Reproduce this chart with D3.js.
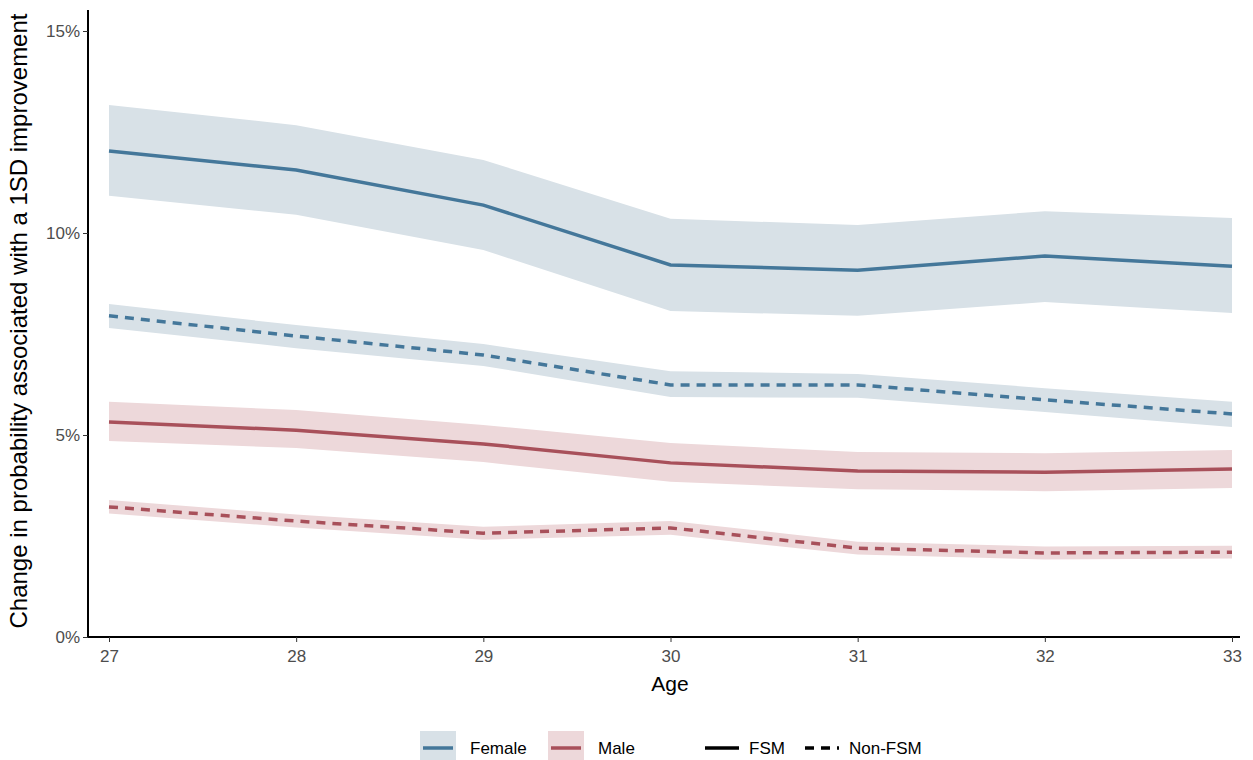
<!DOCTYPE html>
<html><head><meta charset="utf-8">
<script src="https://cdn.jsdelivr.net/npm/d3@7"></script>
<style>body{margin:0;background:#fff}text{font-family:Arial,"Liberation Sans",sans-serif}</style>
</head><body><svg id="c" width="1253" height="760"></svg>
<script>
const ages=[27,28,29,30,31,32,33];
const yTicks=[0,5,10,15];
const femFSM=[12.03,11.56,10.69,9.21,9.08,9.43,9.18];
const femFSMHi=[13.17,12.67,11.81,10.35,10.2,10.54,10.37];
const femFSMLo=[10.92,10.45,9.58,8.07,7.95,8.29,8.02];
const femNon=[7.95,7.45,6.98,6.24,6.24,5.87,5.52];
const femNonHi=[8.24,7.72,7.25,6.58,6.51,6.16,5.82];
const femNonLo=[7.65,7.15,6.71,5.94,5.92,5.57,5.2];
const malFSM=[5.32,5.12,4.78,4.31,4.11,4.08,4.16];
const malFSMHi=[5.82,5.62,5.25,4.8,4.58,4.55,4.63];
const malFSMLo=[4.85,4.68,4.33,3.84,3.66,3.61,3.69];
const malNon=[3.22,2.87,2.57,2.7,2.2,2.08,2.1];
const malNonHi=[3.39,3.03,2.73,2.87,2.36,2.24,2.26];
const malNonLo=[3.06,2.71,2.41,2.53,2.04,1.92,1.94];
const FC="#44779a",FB="#d8e1e7",MC="#a8505a",MB="#edd8da";
const svg=d3.select("#c");
const x=d3.scaleLinear().domain([27,33]).range([109,1232]);
const y=d3.scaleLinear().domain([0,15]).range([637,31]);
const series=[
 [femFSM,femFSMHi,femFSMLo,FC,FB,false],
 [femNon,femNonHi,femNonLo,FC,FB,true],
 [malFSM,malFSMHi,malFSMLo,MC,MB,false],
 [malNon,malNonHi,malNonLo,MC,MB,true]];
const area=(hi,lo)=>d3.area().x((d,i)=>x(ages[i])).y0((d,i)=>y(lo[i])).y1((d,i)=>y(hi[i]))(ages);
series.forEach(s=>svg.append("path").attr("d",area(s[1],s[2])).attr("fill",s[4]));
const line=d3.line().x((d,i)=>x(ages[i])).y(d=>y(d));
series.forEach(s=>svg.append("path").attr("d",line(s[0])).attr("fill","none").attr("stroke",s[3]).attr("stroke-width",3.5).attr("stroke-dasharray",s[5]?"9,7":null));
const xa=svg.append("g").attr("transform","translate(0,637)").call(d3.axisBottom(x).tickValues(ages).tickFormat(d3.format("d")).tickSize(5));
const ya=svg.append("g").attr("transform","translate(88,0)").call(d3.axisLeft(y).tickValues(yTicks).tickFormat(d=>d+"%").tickSize(5));
xa.select(".domain").attr("d","M88,0H1240").attr("stroke","#000").attr("stroke-width",2);
ya.select(".domain").attr("d","M0,637V10").attr("stroke","#000").attr("stroke-width",2);
[xa,ya].forEach(a=>{a.attr("font-size",17).attr("font-family",null);a.selectAll("text").attr("fill","#4d4d4d");a.selectAll(".tick line").attr("stroke","#333");});
xa.selectAll("text").attr("dy","1.0em");
svg.append("text").attr("x",670).attr("y",691).attr("text-anchor","middle").attr("font-size",21).text("Age");
svg.append("text").attr("transform","translate(27,321) rotate(-90)").attr("text-anchor","middle").attr("font-size",24).text("Change in probability associated with a 1SD improvement");
const lg=svg.append("g");
[[420,FB,FC,"Female"],[548,MB,MC,"Male"]].forEach(l=>{
 lg.append("rect").attr("x",l[0]).attr("y",731).attr("width",36).attr("height",34).attr("fill",l[1]);
 lg.append("line").attr("x1",l[0]+3).attr("x2",l[0]+33).attr("y1",748).attr("y2",748).attr("stroke",l[2]).attr("stroke-width",3.5);
 lg.append("text").attr("x",l[0]+50).attr("y",754).attr("font-size",17).text(l[3]);
});
[[705,null,"FSM"],[805,"9,7","Non-FSM"]].forEach(l=>{
 lg.append("line").attr("x1",l[0]).attr("x2",l[0]+34).attr("y1",748).attr("y2",748).attr("stroke","#000").attr("stroke-width",3.5).attr("stroke-dasharray",l[1]);
 lg.append("text").attr("x",l[0]+44).attr("y",754).attr("font-size",17).text(l[2]);
});
</script></body></html>
